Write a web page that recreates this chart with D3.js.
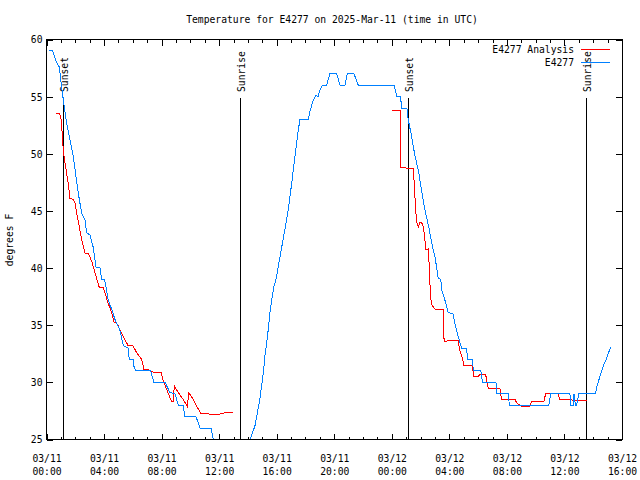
<!DOCTYPE html>
<html>
<head>
<meta charset="utf-8">
<script src="https://cdn.jsdelivr.net/npm/d3@7"></script>
<style>
  body { margin: 0; background: #fff; }
  text { font-family: 'DejaVu Sans Mono', monospace; font-size: 9.7px; fill: #000; }
</style>
</head>
<body>
<svg id="chart" width="640" height="480"></svg>
<script>
// hours after 03/11 00:00 UTC, temperatures in deg F
var obsHours = [0.19, 0.43, 0.66, 0.89, 0.99, 1.13, 1.17, 1.40, 1.63, 1.86, 2.05, 2.28, 2.45, 2.68, 2.79, 3.02,
    3.25, 3.44, 3.72, 3.84, 4.00, 4.07, 4.29, 4.53, 4.76, 4.99, 5.11, 5.34, 5.68, 5.75, 6.06, 6.08, 6.22, 7.24,
    7.47, 8.24, 8.58, 8.93, 9.16, 9.49, 9.62, 10.39, 10.67, 11.43, 11.59, 12.0, 13.0, 13.7,
    14.14, 14.49, 14.65, 14.84, 14.95, 15.07, 15.18, 15.30, 15.41, 15.53, 15.65, 15.81, 15.95, 16.57, 16.80,
    17.04, 17.27, 17.50, 17.62, 18.19, 18.31, 18.54, 18.73, 18.87, 19.01, 19.19, 19.47, 19.70, 20.17, 20.40,
    20.75, 20.90, 21.37, 21.67, 24.15, 24.29, 24.34, 24.61, 24.68, 25.05, 25.14, 25.38, 25.61, 25.84, 26.07,
    26.30, 26.60, 26.77, 27.00, 27.23, 27.41, 27.46, 27.69, 27.92, 28.25, 28.39, 28.62, 28.85, 29.22, 29.24,
    29.62, 29.66, 30.19, 30.31, 31.24, 31.29, 32.12, 32.16, 34.92, 35.04, 36.38, 36.43, 36.61, 36.66, 36.76,
    36.85, 37.00, 38.16, 38.23, 38.46, 38.69, 38.93, 39.21];
var obsTemps = [59, 59, 58.1, 57.6, 56.5, 55.1, 54.7, 52.7, 51.2, 49.8, 48, 46, 44.8, 44.2, 43.1, 42.9,
    41.8, 40.1, 40, 39, 39, 38.8, 37.2, 36.4, 35.5, 34.9, 34.5, 33.2, 33, 32, 32, 31.4, 31, 31,
    30, 30, 29.1, 29, 28, 28, 27, 27, 26, 26, 25, 24, 23, 24,
    25, 26.2, 27.3, 28.6, 29.7, 30.8, 32.3, 33.4, 34.6, 36.1, 37.2, 38.4, 39, 43.4, 45.1,
    47.4, 49.8, 52.1, 53, 53, 53.7, 54.7, 55.1, 55, 55.6, 56, 56, 57, 57, 56,
    56, 57, 57, 56, 56, 55.3, 55, 55, 54, 54, 53, 51.5, 49.8, 48.6, 46.8,
    45.1, 43.4, 42.2, 41, 39.1, 39, 38.1, 37.2, 36.1, 36, 35.1, 34, 33, 33, 32,
    32, 31, 31, 30, 30, 29, 29, 28, 28, 29, 29, 28, 28, 29, 28,
    28, 29, 29, 29.5, 30.5, 31.4, 32.1, 33.1];

// analysis series, null marks the gap between the two runs
var anaHours = [0.66, 0.89, 0.99, 1.06, 1.13, 1.22, 1.36, 1.51, 1.63, 1.84, 1.98, 2.10, 2.28, 2.45, 2.68, 2.90,
    3.14, 3.37, 3.67, 3.95, 4.07, 4.29, 4.53, 4.69, 4.92, 5.11, 5.34, 5.68, 6.01, 6.27, 6.62, 6.78, 7.05,
    7.42, 7.96, 8.12, 8.35, 8.70, 8.81, 8.88, 9.16, 9.51, 9.78, 9.90, 10.20, 10.44, 10.72, 11.15, 11.36,
    11.94, 12.29, 12.63, 12.94, 18.0,
    23.99, 24.61, 24.62, 24.64, 25.49, 25.56, 25.66, 25.73, 25.84, 25.96, 26.14, 26.25, 26.37, 26.56, 26.60,
    26.70, 26.77, 27.00, 27.57, 27.58, 27.64, 28.60, 28.69, 28.97, 28.98, 29.57, 29.71, 29.99, 30.13, 30.52,
    30.70, 31.51, 31.63, 31.98, 32.56, 32.68, 33.02, 33.55, 33.72, 34.57, 34.69, 35.55, 35.69, 37.58];
var anaTemps = [53.5, 53.5, 53.3, 52.4, 50.9, 49.8, 48.6, 47.4, 46.1, 46, 45.7, 44.8, 43.6, 42.5, 41.3, 41.3,
    40.6, 39.6, 38.3, 38.3, 37.8, 36.9, 36.1, 35.3, 35.1, 34.6, 34, 33.2, 33.2, 32.6, 32, 31.1, 31.1,
    30.9, 30.9, 30.1, 29.4, 28.3, 28.3, 29.7, 29.1, 28.5, 27.9, 29.1, 28.5, 27.9, 27.3, 27.3, 27.2,
    27.2, 27.3, 27.4, 27.4, null,
    53.8, 53.8, 51.4, 48.8, 48.7, 47.4, 45.1, 44, 43.6, 44, 43.9, 43.1, 41.6, 41.7, 39.9,
    37.4, 36.8, 36.4, 36.4, 35, 33.6, 33.7, 33, 31.8, 31.5, 31.5, 30.5, 30.5, 30.7, 30.7,
    29.5, 29.5, 28.5, 28.5, 28.5, 28.2, 27.9, 27.9, 28.3, 28.3, 29, 29, 28.5, 28.4];

var sunHours = [1.17, 13.47, 25.14, 37.47];
var sunLabels = ['Sunset', 'Sunrise', 'Sunset', 'Sunrise'];
var yTicks = [25, 30, 35, 40, 45, 50, 55, 60];

var plotLeft = 46.5, plotRight = 622, plotTop = 39.5, plotBottom = 439.5;
var t0 = Date.UTC(2025, 2, 11);
function toDate(h) { return new Date(t0 + h * 3600e3); }

var svg = d3.select('#chart');
var x = d3.scaleUtc().domain([toDate(0), toDate(40)]).range([plotLeft, plotRight]);
var y = d3.scaleLinear().domain([25, 60]).range([plotBottom, plotTop]);

svg.append('defs').append('clipPath').attr('id', 'plotclip')
    .append('rect').attr('x', plotLeft).attr('y', plotTop)
    .attr('width', plotRight - plotLeft).attr('height', plotBottom - plotTop);

// title and axis label
svg.append('text').attr('x', 332).attr('y', 23).attr('text-anchor', 'middle')
    .text('Temperature for E4277 on 2025-Mar-11 (time in UTC)');
svg.append('text').attr('transform', 'translate(13,240) rotate(-90)').attr('text-anchor', 'middle')
    .text('degrees F');

// ticks point inward, like gnuplot
var majorTicks = x.ticks(d3.utcHour.every(4));
var minorTicks = x.ticks(d3.utcHour.every(1));
var fmtDay = d3.utcFormat('%m/%d'), fmtTime = d3.utcFormat('%H:%M');

var gxMinor = svg.append('g').attr('transform', 'translate(0,' + plotBottom + ')')
    .call(d3.axisBottom(x).tickValues(minorTicks).tickSize(-3).tickFormat(''));
var gxMinorTop = svg.append('g').attr('transform', 'translate(0,' + plotTop + ')')
    .call(d3.axisTop(x).tickValues(minorTicks).tickSize(-3).tickFormat(''));
var gx = svg.append('g').attr('transform', 'translate(0,' + plotBottom + ')')
    .call(d3.axisBottom(x).tickValues(majorTicks).tickSize(-6).tickPadding(0).tickFormat(''));
var gxTop = svg.append('g').attr('transform', 'translate(0,' + plotTop + ')')
    .call(d3.axisTop(x).tickValues(majorTicks).tickSize(-6).tickFormat(''));
var gy = svg.append('g').attr('transform', 'translate(' + plotLeft + ',0)')
    .call(d3.axisLeft(y).tickValues(yTicks).tickSize(-6).tickPadding(4).tickFormat(d3.format('d')));
var gyRight = svg.append('g').attr('transform', 'translate(' + plotRight + ',0)')
    .call(d3.axisRight(y).tickValues(yTicks).tickSize(-6).tickFormat(''));

gx.selectAll('.tick text').remove();
gx.selectAll('.tick').append('text')
    .attr('y', 22).attr('text-anchor', 'middle')
    .each(function(d) {
        var t = d3.select(this);
        t.append('tspan').attr('x', 0).text(fmtDay(d));
        t.append('tspan').attr('x', 0).attr('dy', 13).text(fmtTime(d));
    });

[gxMinor, gxMinorTop, gx, gxTop, gy, gyRight].forEach(function(g) {
    g.select('.domain').remove();
    g.selectAll('.tick line').attr('stroke', '#000').attr('shape-rendering', 'crispEdges');
    g.selectAll('.tick text').attr('fill', '#000').style('font-size', '9.7px')
        .style('font-family', "'DejaVu Sans Mono', monospace");
});
gy.selectAll('.tick text').attr('dy', '0.35em');

// sunrise / sunset markers
var sun = svg.append('g').selectAll('g').data(sunHours).enter().append('g')
    .attr('transform', function(d) { return 'translate(' + Math.round(x(toDate(d))) + ',0)'; });
sun.append('line').attr('x1', 0.5).attr('x2', 0.5).attr('y1', 98).attr('y2', plotBottom)
    .attr('stroke', '#000').attr('shape-rendering', 'crispEdges');
sun.append('text').attr('transform', 'translate(5,92) rotate(-90)')
    .text(function(d, i) { return sunLabels[i]; });

// data lines, 1px and unsmoothed like the gd renderer
var line = d3.line()
    .defined(function(d) { return d[1] !== null; })
    .x(function(d) { return x(toDate(d[0])); })
    .y(function(d) { return y(d[1]); });
var plot = svg.append('g').attr('clip-path', 'url(#plotclip)');
plot.append('path').datum(anaHours.map(function(h, i) { return [h, anaTemps[i]]; }))
    .attr('d', line).attr('fill', 'none').attr('stroke', '#ff0000').attr('stroke-width', 1)
    .attr('shape-rendering', 'crispEdges');
plot.append('path').datum(obsHours.map(function(h, i) { return [h, obsTemps[i]]; }))
    .attr('d', line).attr('fill', 'none').attr('stroke', '#0080ff').attr('stroke-width', 1)
    .attr('shape-rendering', 'crispEdges');

// frame
svg.append('rect').attr('x', plotLeft).attr('y', plotTop)
    .attr('width', plotRight - plotLeft).attr('height', plotBottom - plotTop)
    .attr('fill', 'none').attr('stroke', '#000').attr('shape-rendering', 'crispEdges');

// legend
var legendNames = ['E4277 Analysis', 'E4277'];
var legendColors = ['#ff0000', '#0080ff'];
var legend = svg.append('g').selectAll('g').data(legendNames).enter().append('g')
    .attr('transform', function(d, i) { return 'translate(0,' + (49.5 + i * 13) + ')'; });
legend.append('text').attr('x', 574).attr('y', 0).attr('dy', '0.35em').attr('text-anchor', 'end')
    .text(function(d) { return d; });
legend.append('line').attr('x1', 581).attr('x2', 610).attr('y1', 0).attr('y2', 0)
    .attr('stroke', function(d, i) { return legendColors[i]; }).attr('stroke-width', 1)
    .attr('shape-rendering', 'crispEdges');
</script>
</body>
</html>
